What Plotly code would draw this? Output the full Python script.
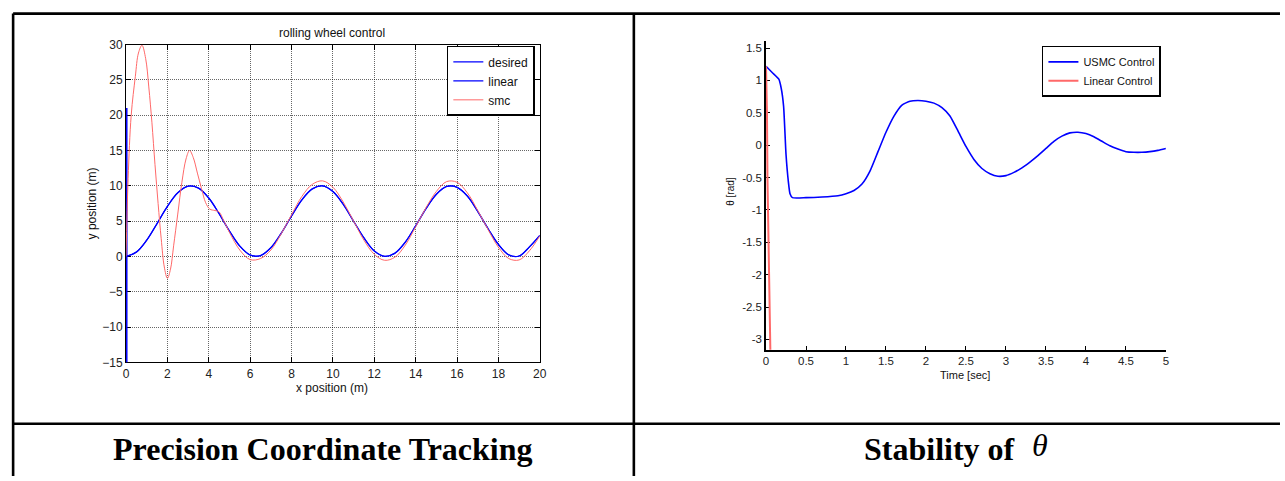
import plotly.graph_objects as go

W, H = 1285, 481

# ---------------- left panel: rolling wheel path ----------------
x_path = [0, 0.5, 1, 1.5, 2, 2.5, 3, 3.5, 4, 4.5, 5, 5.5, 6, 6.5, 7, 7.5, 8, 8.5, 9, 9.5,
          10, 10.5, 11, 11.5, 12, 12.5, 13, 13.5, 14, 14.5, 15, 15.5, 16, 16.5, 17, 17.5,
          18, 18.5, 19, 19.5, 20]
y_desired = [0, 0.61, 2.30, 4.65, 7.08, 9.01, 9.95, 9.68, 8.27, 6.05, 3.58, 1.46, 0.20, 0.12,
             1.23, 3.27, 5.73, 8.01, 9.56, 9.99, 9.20, 7.38, 4.98, 2.62, 0.78, 0.01, 0.46, 2.03,
             4.32, 6.77, 8.80, 9.91, 9.79, 8.55, 6.38, 3.92, 1.70, 0.22, 0.06, 1.35, 2.96]
y_linear = [0, 0.62, 2.31, 4.66, 7.08, 9.0, 9.94, 9.68, 8.27, 6.05, 3.58, 1.46, 0.2, 0.12,
            1.23, 3.27, 5.73, 8.01, 9.56, 9.99, 9.2, 7.38, 4.98, 2.62, 0.78, 0.01, 0.46, 2.03,
            4.32, 6.77, 8.8, 9.91, 9.79, 8.55, 6.38, 3.92, 1.7, 0.22, 0.06, 1.35, 2.96]
# initial transient of the linear controller (vertical excursion at x = 0)
x_linear_spike = [0, 0, 0, 0]
y_linear_spike = [0, 21, -16, 18]

x_smc = [0, 0.1, 0.25, 0.45, 0.6, 0.77, 0.95, 1.1, 1.25, 1.4, 1.55, 1.7, 1.85, 2.0, 2.15,
         2.3, 2.5, 2.7, 2.9, 3.07, 3.25, 3.45, 3.65, 3.85, 4.05, 4.3, 4.5, 4.7, 5.0, 5.5,
         6.0, 6.5, 7.0, 7.5, 8.0, 8.5, 9.0, 9.5, 10.0, 10.5, 11.0, 11.5, 12.0, 12.5, 13.0,
         13.5, 14.0, 14.5, 15.0, 15.5, 16.0, 16.5, 17.0, 17.5, 18.0, 18.5, 19.0, 19.5, 20.0]
y_smc = [0, 11, 20, 25.5, 28.8, 29.9, 28, 24, 19, 13, 7.5, 2.5, -1.5, -3.1, -1.8,
         1.5, 6, 10.5, 13.8, 15, 14, 11.8, 9.6, 7.6, 6.7, 6.5, 6.3, 5.2, 3.4, 0.9,
         -0.45, -0.3, 0.9, 3.2, 5.9, 8.5, 10.2, 10.7, 9.8, 7.7, 5.0, 2.3, 0.3, -0.55, -0.1,
         1.6, 4.2, 6.9, 9.2, 10.6, 10.5, 9.0, 6.5, 3.8, 1.3, -0.3, -0.5, 0.8, 2.9]

x_ticks_l = [0, 2, 4, 6, 8, 10, 12, 14, 16, 18, 20]
y_ticks_l = [-15, -10, -5, 0, 5, 10, 15, 20, 25, 30]

# ---------------- right panel: theta response ----------------
t_usmc = [0, 0.08, 0.16, 0.19, 0.22, 0.25, 0.28, 0.3, 0.33, 0.5, 0.7, 0.9, 1.0,
          1.1, 1.2, 1.3, 1.4, 1.5, 1.6, 1.7, 1.8, 1.9, 2.0, 2.1, 2.2, 2.3, 2.4, 2.5, 2.6,
          2.7, 2.8, 2.9, 3.0, 3.1, 3.2, 3.3, 3.4, 3.5, 3.6, 3.7, 3.8, 3.9, 4.0, 4.1, 4.2,
          4.3, 4.4, 4.5, 4.6, 4.7, 4.8, 4.9, 5.0]
theta_usmc = [1.22, 1.12, 1.02, 0.88, 0.6, -0.14, -0.57, -0.75, -0.81, -0.81, -0.8,
              -0.78, -0.75, -0.7, -0.6, -0.4, -0.1, 0.2, 0.45, 0.62, 0.68, 0.69, 0.68, 0.65,
              0.58, 0.45, 0.22, -0.02, -0.22, -0.36, -0.44, -0.48, -0.47, -0.42, -0.35, -0.26,
              -0.16, -0.05, 0.06, 0.14, 0.19, 0.2, 0.18, 0.13, 0.06, -0.01, -0.06, -0.1, -0.11,
              -0.11, -0.1, -0.08, -0.05]
t_lin = [0, 0.012, 0.018, 0.03, 0.046, 0.056]
theta_lin = [1.22, 0.5, -0.5, -1.5, -2.5, -3.3]

x_ticks_r = [0, 0.5, 1, 1.5, 2, 2.5, 3, 3.5, 4, 4.5, 5]
y_ticks_r = [-3, -2.5, -2, -1.5, -1, -0.5, 0, 0.5, 1, 1.5]


def px(x):
    return x / W


def py(y):
    return 1 - y / H


BLUE = "#0000ff"
RED = "rgb(255,105,105)"
SANS = "Liberation Sans, Arial, sans-serif"
SERIF = "Liberation Serif, Times New Roman, serif"
FONT_L = dict(family=SANS, size=12, color="#222")
FONT_R = dict(family=SANS, size=11.5, color="#222")

fig = go.Figure()

fig.add_trace(go.Scatter(x=x_path, y=y_desired, name="desired", mode="lines",
                         line=dict(color=BLUE, width=1.3, shape="spline"),
                         xaxis="x", yaxis="y", legend="legend"))
fig.add_trace(go.Scatter(x=x_path, y=y_linear, name="linear", mode="lines",
                         line=dict(color=BLUE, width=1.1, shape="spline"),
                         xaxis="x", yaxis="y", legend="legend"))
fig.add_trace(go.Scatter(x=x_linear_spike, y=y_linear_spike, mode="lines", showlegend=False,
                         line=dict(color=BLUE, width=3), xaxis="x", yaxis="y",
                         hoverinfo="skip"))
fig.add_trace(go.Scatter(x=x_smc, y=y_smc, name="smc", mode="lines",
                         line=dict(color=RED, width=1, shape="spline"),
                         xaxis="x", yaxis="y", legend="legend"))

fig.add_trace(go.Scatter(x=t_usmc, y=theta_usmc, name="USMC Control", mode="lines",
                         line=dict(color=BLUE, width=1.6, shape="spline", smoothing=0.5),
                         xaxis="x2", yaxis="y2", legend="legend2"))
fig.add_trace(go.Scatter(x=t_lin, y=theta_lin, name="Linear Control", mode="lines",
                         line=dict(color=RED, width=2),
                         xaxis="x2", yaxis="y2", legend="legend2"))

grid = dict(showgrid=True, gridcolor="rgba(0,0,0,0.6)", griddash="1px,1px", gridwidth=1)

fig.update_layout(
    width=W, height=H,
    margin=dict(l=0, r=0, t=0, b=0),
    paper_bgcolor="white", plot_bgcolor="white",
    font=FONT_L,
    xaxis=dict(domain=[px(124), px(541)], range=[0, 20], tickvals=x_ticks_l,
               ticks="inside", ticklen=5, tickcolor="black", showline=True,
               linecolor="black", linewidth=1, mirror="ticks", zeroline=False,
               anchor="y", tickfont=FONT_L, layer="below traces", **grid),
    yaxis=dict(domain=[py(366), py(38.7)], range=[-15, 30], tickvals=y_ticks_l,
               ticks="inside", ticklen=5, tickcolor="black", showline=True,
               linecolor="black", linewidth=1, mirror="ticks", zeroline=False,
               anchor="x", tickfont=FONT_L, layer="below traces", **grid),
    xaxis2=dict(domain=[px(769), px(1172)], range=[0, 5], tickvals=x_ticks_r,
                ticktext=[f"{v:g}" for v in x_ticks_r],
                ticks="inside", ticklen=4, tickcolor="black", showline=True,
                linecolor="black", linewidth=1.5, mirror=False, zeroline=False,
                showgrid=False, anchor="y2", tickfont=FONT_R, layer="below traces"),
    yaxis2=dict(domain=[py(353), py(35)], range=[-3.16, 1.61], tickvals=y_ticks_r,
                ticktext=[f"{v:g}" for v in y_ticks_r],
                ticks="inside", ticklen=4, tickcolor="black", showline=True,
                linecolor="black", linewidth=1.5, mirror=False, zeroline=False,
                showgrid=False, anchor="x2", tickfont=FONT_R, layer="below traces"),
    legend=dict(x=px(536), y=py(40), xanchor="right", yanchor="top",
                bgcolor="white", bordercolor="black", borderwidth=1.5,
                font=dict(family=SANS, size=12, color="#111"), tracegroupgap=0),
    legend2=dict(x=px(1167), y=py(40), xanchor="right", yanchor="top",
                 bgcolor="white", bordercolor="black", borderwidth=1.5,
                 font=dict(family=SANS, size=11, color="#111"), tracegroupgap=0),
    showlegend=True,
)

annotations = [
    dict(text="rolling wheel control", x=px(332), y=py(27), size=12),
    dict(text="x position (m)", x=px(332), y=py(392), size=12),
    dict(text="y position (m)", x=px(90), y=py(202), textangle=-90, size=12),
    dict(text="Time [sec]", x=px(970), y=py(379), size=11),
    dict(text="θ [rad]", x=px(733), y=py(190), textangle=-90, size=10),
]
for a in annotations:
    fig.add_annotation(text=a["text"], x=a["x"], y=a["y"], xref="paper", yref="paper",
                       showarrow=False, xanchor="center", yanchor="middle",
                       textangle=a.get("textangle", 0),
                       font=dict(family=SANS, size=a["size"], color="#111"))

# captions under each panel
fig.add_annotation(text="<b>Precision Coordinate Tracking</b>", x=px(322.5), y=py(455),
                   xref="paper", yref="paper", showarrow=False,
                   xanchor="center", yanchor="middle",
                   font=dict(family=SERIF, size=32, color="black"))
fig.add_annotation(text="<b>Stability of</b>", x=px(1022), y=py(455),
                   xref="paper", yref="paper", showarrow=False,
                   xanchor="right", yanchor="middle",
                   font=dict(family=SERIF, size=32, color="black"))
fig.add_annotation(text="<i>θ</i>", x=px(1045), y=py(451),
                   xref="paper", yref="paper", showarrow=False,
                   xanchor="center", yanchor="middle",
                   font=dict(family=SERIF, size=32, color="black"))

# table rules framing the two panels
rule = dict(color="black", width=2.6)
for x0, y0, x1, y1 in [(10.2, 6.8, 10.2, H + 2), (10.2, 6.8, W + 2, 6.8),
                       (635.8, 6.8, 635.8, H + 2), (10.2, 429.3, W + 2, 429.3)]:
    fig.add_shape(type="line", xref="paper", yref="paper",
                  x0=px(x0), y0=py(y0), x1=px(x1), y1=py(y1), line=rule)

fig.write_html("out.html")
